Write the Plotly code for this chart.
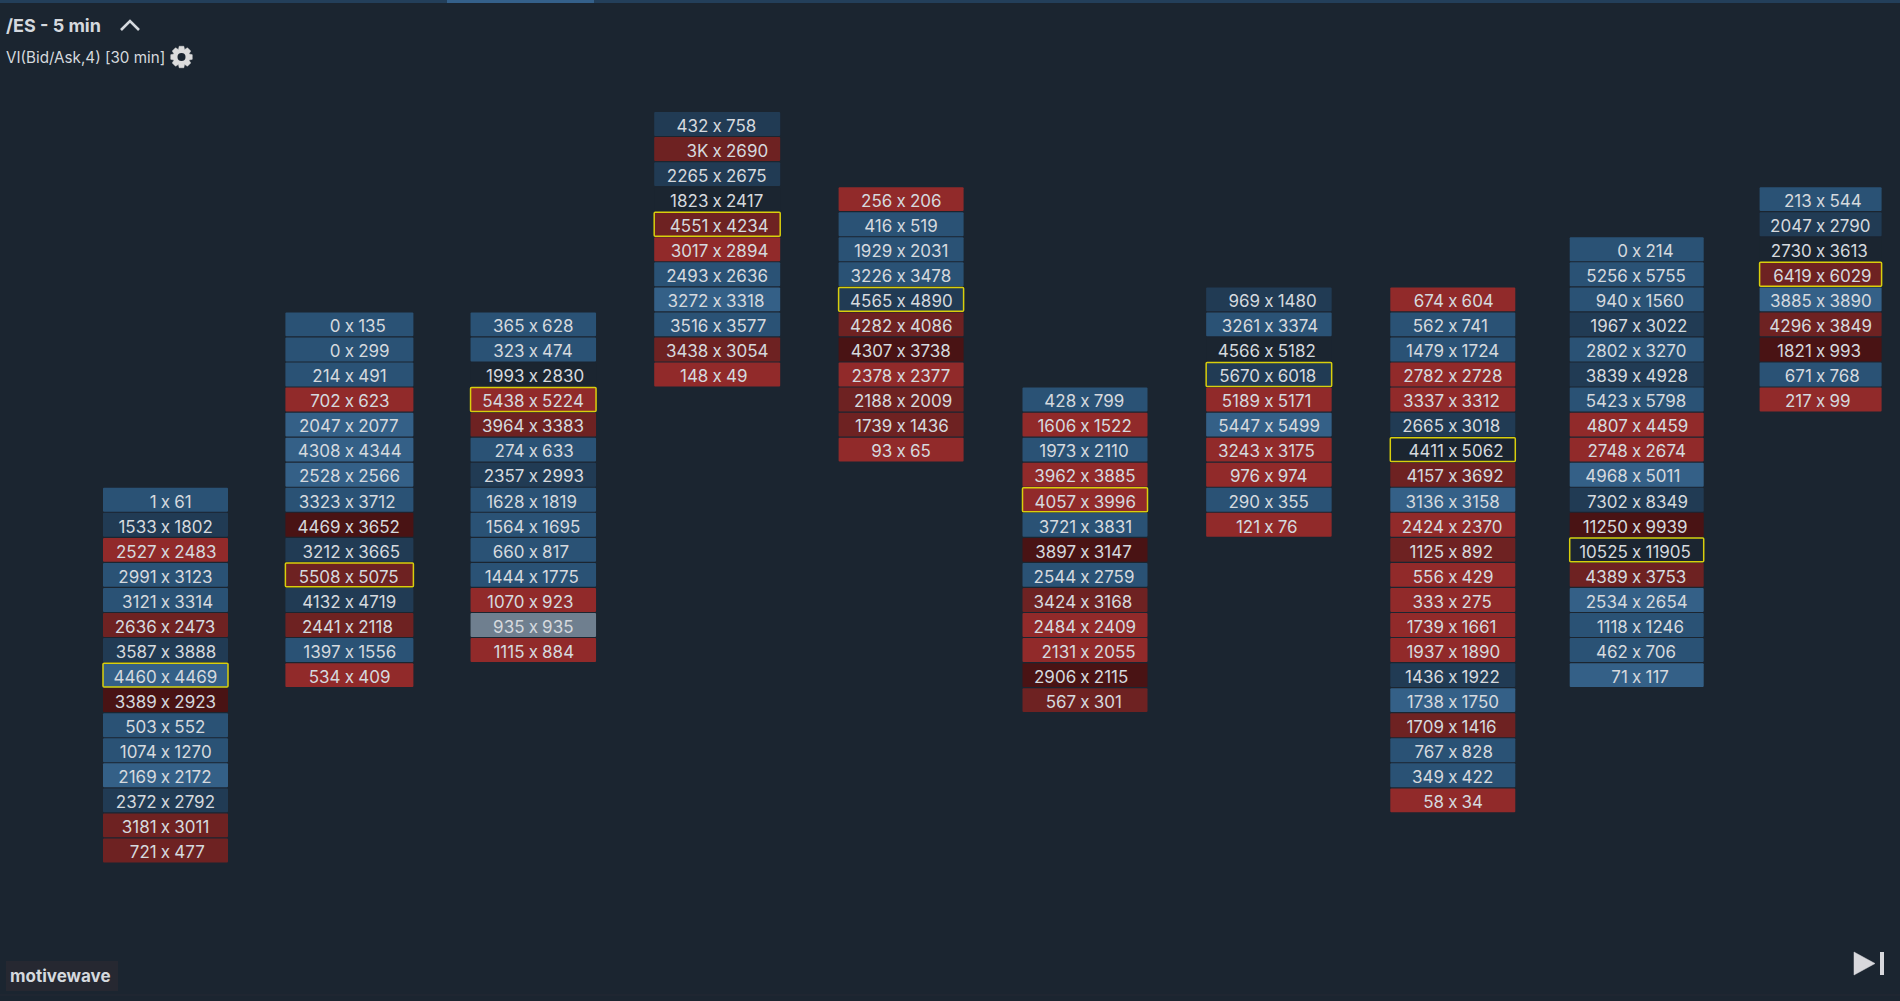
import math
import plotly.graph_objects as go

W, H = 1900, 1001

# footprint columns: bid x ask per price row, shade = imbalance class
col1_bid = [1, 1533, 2527, 2991, 3121, 2636, 3587, 4460, 3389, 503, 1074, 2169, 2372, 3181, 721]
col1_ask = [61, 1802, 2483, 3123, 3314, 2473, 3888, 4469, 2923, 552, 1270, 2172, 2792, 3011, 477]
col1_shade = list("BDRBBMDLKBBLDMM")

col2_bid = [0, 0, 214, 702, 2047, 4308, 2528, 3323, 4469, 3212, 5508, 4132, 2441, 1397, 534]
col2_ask = [135, 299, 491, 623, 2077, 4344, 2566, 3712, 3652, 3665, 5075, 4719, 2118, 1556, 409]
col2_shade = list("BBBRLLLBKDMDMBR")

col3_bid = [365, 323, 1993, 5438, 3964, 274, 2357, 1628, 1564, 660, 1444, 1070, 935, 1115]
col3_ask = [628, 474, 2830, 5224, 3383, 633, 2993, 1819, 1695, 817, 1775, 923, 935, 884]
col3_shade = list("BBNRMBDBBBBRGR")

col4_bid = [432, "3K", 2265, 1823, 4551, 3017, 2493, 3272, 3516, 3438, 148]
col4_ask = [758, 2690, 2675, 2417, 4234, 2894, 2636, 3318, 3577, 3054, 49]
col4_shade = list("DMDNMRBLBMR")

col5_bid = [256, 416, 1929, 3226, 4565, 4282, 4307, 2378, 2188, 1739, 93]
col5_ask = [206, 519, 2031, 3478, 4890, 4086, 3738, 2377, 2009, 1436, 65]
col5_shade = list("RBBBDMKRMMR")

col6_bid = [428, 1606, 1973, 3962, 4057, 3721, 3897, 2544, 3424, 2484, 2131, 2906, 567]
col6_ask = [799, 1522, 2110, 3885, 3996, 3831, 3147, 2759, 3168, 2409, 2055, 2115, 301]
col6_shade = list("BRBRRBKBMRRKM")

col7_bid = [969, 3261, 4566, 5670, 5189, 5447, 3243, 976, 290, 121]
col7_ask = [1480, 3374, 5182, 6018, 5171, 5499, 3175, 974, 355, 76]
col7_shade = list("DBNDRLRRBR")

col8_bid = [674, 562, 1479, 2782, 3337, 2665, 4411, 4157, 3136, 2424, 1125, 556, 333, 1739, 1937, 1436, 1738, 1709, 767, 349, 58]
col8_ask = [604, 741, 1724, 2728, 3312, 3018, 5062, 3692, 3158, 2370, 892, 429, 275, 1661, 1890, 1922, 1750, 1416, 828, 422, 34]
col8_shade = list("RBBRRDNMLRMRRRRDLMBBR")

col9_bid = [0, 5256, 940, 1967, 2802, 3839, 5423, 4807, 2748, 4968, 7302, 11250, 10525, 4389, 2534, 1118, 462, 71]
col9_ask = [214, 5755, 1560, 3022, 3270, 4928, 5798, 4459, 2674, 5011, 8349, 9939, 11905, 3753, 2654, 1246, 706, 117]
col9_shade = list("BBBDBDBRRLDKNMLBBL")

col10_bid = [213, 2047, 2730, 6419, 3885, 4296, 1821, 671, 217]
col10_ask = [544, 2790, 3613, 6029, 3890, 3849, 993, 768, 99]
col10_shade = list("BDNMLMKBR")

# first price row of each column, and the row holding the point of control
first_row = [15, 8, 8, 0, 3, 11, 7, 7, 5, 3]
poc_row = [22, 18, 11, 4, 7, 15, 10, 13, 17, 6]

columns = [
    (col1_bid, col1_ask, col1_shade),
    (col2_bid, col2_ask, col2_shade),
    (col3_bid, col3_ask, col3_shade),
    (col4_bid, col4_ask, col4_shade),
    (col5_bid, col5_ask, col5_shade),
    (col6_bid, col6_ask, col6_shade),
    (col7_bid, col7_ask, col7_shade),
    (col8_bid, col8_ask, col8_shade),
    (col9_bid, col9_ask, col9_shade),
    (col10_bid, col10_ask, col10_shade),
]

BG = "#1b2530"
TEXT = "#d5d9de"
YELLOW = "#d9cf0c"
shade_colors = {
    "B": "#2a5275",
    "D": "#213b54",
    "L": "#346087",
    "N": BG,
    "R": "#912a2a",
    "M": "#6e2222",
    "K": "#491314",
    "G": "#6f7f8f",
}

# pixel layout of the columns and rows
COL_PITCH = 183.9
ROW_PITCH = 25.05
col_width_px = [125, 128, 125.5, 126, 125, 125, 125.5, 125, 134, 122]
XGAP = 8.8 / COL_PITCH
TEXT_DY = 3.5 / ROW_PITCH


def px(x):
    return x / W


def py(y):
    return 1 - y / H


def gear_path(cx, cy, r_out, r_in, teeth):
    pts = []
    step = 2 * math.pi / teeth
    for t in range(teeth):
        a = t * step - math.pi / 2
        for da, r in [(-0.30, r_in), (-0.17, r_out), (0.17, r_out), (0.30, r_in)]:
            pts.append((cx + r * math.cos(a + da * step * 1.6), cy + r * math.sin(a + da * step * 1.6)))
    d = "M " + " L ".join(f"{px(x)} {py(y)}" for x, y in pts) + " Z"
    return d


fig = go.Figure()

bid_x, bid_y, bid_text = [], [], []
ask_x, ask_y, ask_text = [], [], []
mid_x, mid_y = [], []

for i, (bids, asks, shades) in enumerate(columns):
    rows = list(range(first_row[i], first_row[i] + len(bids)))
    width = col_width_px[i] / COL_PITCH
    fig.add_trace(go.Bar(
        orientation="h",
        y=rows,
        x=[width] * len(rows),
        base=[i - width / 2] * len(rows),
        width=0.955,
        marker=dict(
            color=[shade_colors[s] for s in shades],
            cornerradius=1,
            line=dict(
                color=[YELLOW if r == poc_row[i] else "rgba(0,0,0,0)" for r in rows],
                width=[1.5 if r == poc_row[i] else 0 for r in rows],
            ),
        ),
        hoverinfo="skip",
        showlegend=False,
    ))
    bid_x += [i - XGAP] * len(rows)
    ask_x += [i + XGAP] * len(rows)
    mid_x += [i] * len(rows)
    bid_y += [r + TEXT_DY for r in rows]
    ask_y += [r + TEXT_DY for r in rows]
    mid_y += [r + TEXT_DY for r in rows]
    bid_text += [str(b) for b in bids]
    ask_text += [str(a) for a in asks]

label_font = dict(family="Inter", size=17, color=TEXT)
for xs, ys, labels, pos in [
    (bid_x, bid_y, bid_text, "middle left"),
    (mid_x, mid_y, ["x"] * len(mid_x), "middle center"),
    (ask_x, ask_y, ask_text, "middle right"),
]:
    fig.add_trace(go.Scatter(
        x=xs, y=ys, text=labels, mode="text", textposition=pos,
        textfont=label_font, hoverinfo="skip", showlegend=False, cliponaxis=False,
    ))

shapes = [
    # progress strip along the top
    dict(type="rect", x0=0, x1=1, y0=py(3), y1=1, fillcolor="#233f5a", line_width=0),
    dict(type="rect", x0=px(447), x1=px(594), y0=py(3), y1=1, fillcolor="#34608a", line_width=0),
    # chevron beside the title
    dict(type="path",
         path=f"M {px(121)} {py(30)} L {px(130)} {py(21)} L {px(139)} {py(30)}",
         line=dict(color=TEXT, width=2.6)),
    # settings cog: solid teeth with a background hole
    dict(type="path", path=gear_path(181.5, 57, 11, 8.2, 8),
         fillcolor="#dcdcdc", line=dict(color="#dcdcdc", width=0.5)),
    dict(type="circle", x0=px(177.5), x1=px(185.5), y0=py(61), y1=py(53),
         fillcolor=BG, line_width=0),
    # logo plate
    dict(type="rect", x0=px(6), x1=px(118), y0=py(991), y1=py(961),
         fillcolor="#262831", line_width=0),
    # jump-to-end button
    dict(type="path",
         path=f"M {px(1854)} {py(952)} L {px(1875)} {py(963.5)} L {px(1854)} {py(975)} Z",
         fillcolor="#d8d8dc", line=dict(color="#d8d8dc", width=0.5)),
    dict(type="rect", x0=px(1880), x1=px(1884), y0=py(975), y1=py(952),
         fillcolor="#d8d8dc", line_width=0),
    # faint footer rule
    dict(type="line", x0=0, x1=1, y0=py(995), y1=py(995),
         line=dict(color="#252833", width=1)),
]
for s in shapes:
    s.update(xref="paper", yref="paper", layer="above")


def note(x, y, text, size, bold=False, color=TEXT):
    return dict(
        xref="paper", yref="paper", x=px(x), y=py(y), text=f"<b>{text}</b>" if bold else text,
        showarrow=False, xanchor="left", yanchor="middle",
        font=dict(family="Inter", size=size, color=color), borderpad=0, borderwidth=0,
    )


annotations = [
    note(6, 25.5, "/ES - 5 min", 18, bold=True),
    note(6, 57.5, "VI(Bid/Ask,4) [30 min]", 15.2),
    note(10, 976, "motivewave", 17, bold=True),
]

fig.update_layout(
    width=W,
    height=H,
    margin=dict(l=0, r=0, t=0, b=0),
    paper_bgcolor=BG,
    plot_bgcolor=BG,
    barmode="overlay",
    xaxis=dict(visible=False, range=[-165.5 / COL_PITCH, (W - 165.5) / COL_PITCH]),
    yaxis=dict(visible=False, range=[(H - 124) / ROW_PITCH, -124 / ROW_PITCH]),
    shapes=shapes,
    annotations=annotations,
)

fig.write_html(
    "out.html",
    config=dict(displayModeBar=False),
    post_script="document.body.style.margin='0';document.body.style.background='" + BG + "';",
)
